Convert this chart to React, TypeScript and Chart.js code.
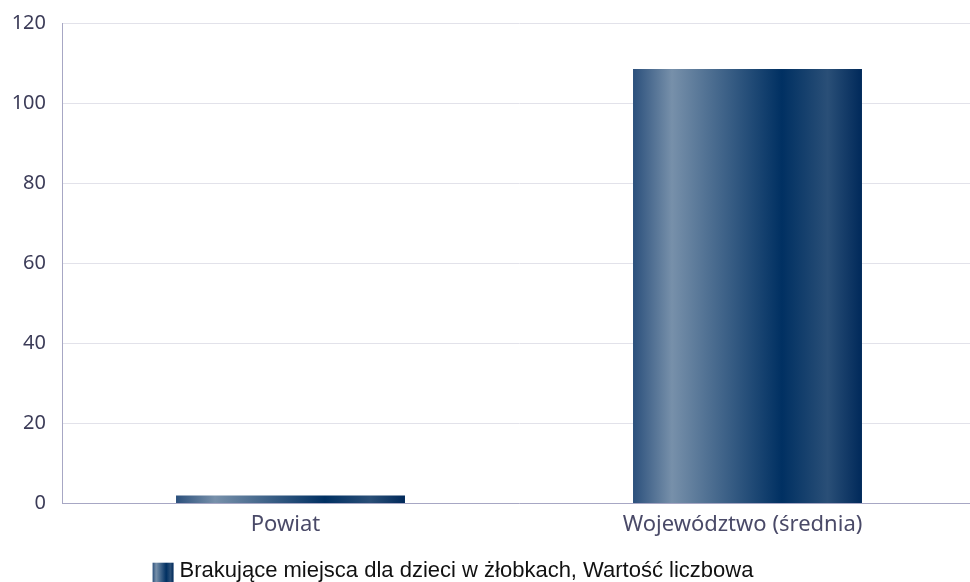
import React, { useEffect, useRef } from "react";
import { Chart, registerables } from "chart.js";

Chart.register(...registerables);

const categories = ["Powiat", "Województwo (średnia)"];
const seriesLabel = "Brakujące miejsca dla dzieci w żłobkach, Wartość liczbowa";
const seriesValues = [2, 108.5];
const gradientStops: [number, string][] = [
  [0, "#2b507c"],
  [0.17, "#7790aa"],
  [0.4, "#3e6288"],
  [0.65, "#003062"],
  [0.85, "#2a4f77"],
  [1, "#00295a"],
];
const CAT_PCT = 0.501;
const LEGEND_SHIFT_X = -37;
const LEGEND_SHIFT_Y = 10;
const SWATCH = 21;
const SWATCH_GAP = 6;

function makeGradient(ctx: CanvasRenderingContext2D, x0: number, x1: number) {
  const g = ctx.createLinearGradient(x0, 0, x1, 0);
  gradientStops.forEach(([o, c]) => g.addColorStop(o, c));
  return g;
}

const helperPlugin = {
  id: "helper",
  afterLayout(chart: any) {
    const lg = chart.legend;
    if (lg) {
      lg.left += LEGEND_SHIFT_X;
      lg.right += LEGEND_SHIFT_X;
      lg.top += LEGEND_SHIFT_Y;
      lg.bottom += LEGEND_SHIFT_Y;
    }
  },
  beforeDraw(chart: any) {
    const lg = chart.legend;
    if (lg && lg.legendItems && lg.legendItems[0]) {
      lg.legendItems[0].fillStyle = "rgba(0,0,0,0)";
      lg.legendItems[0].strokeStyle = "rgba(0,0,0,0)";
      lg.legendItems[0].lineWidth = 0;
    }
  },
  afterDraw(chart: any) {
    const lg = chart.legend;
    if (!lg || !lg.legendHitBoxes || !lg.legendHitBoxes[0]) return;
    const ctx = chart.ctx;
    const hb = lg.legendHitBoxes[0];
    const opts = lg.options.labels;
    const fontSize = opts.font.size;
    const textX = hb.left + opts.boxWidth + fontSize / 2;
    const x0 = textX - SWATCH_GAP - SWATCH;
    const cy = lg.top + opts.padding + (fontSize * 1.2) / 2;
    ctx.save();
    ctx.fillStyle = makeGradient(ctx, x0, x0 + SWATCH);
    ctx.fillRect(x0, cy - SWATCH / 2, SWATCH, SWATCH);
    ctx.restore();
  },
};

function barFill(context: any) {
  const chart = context.chart;
  const xs = chart.scales && chart.scales.x;
  if (!xs || !chart.chartArea) return "#1d436e";
  const n = chart.data.labels.length;
  const cx = xs.getPixelForValue(context.dataIndex);
  const w = (xs.width / n) * CAT_PCT;
  return makeGradient(chart.ctx, cx - w / 2, cx + w / 2);
}

export default function App() {
  const ref = useRef<HTMLCanvasElement | null>(null);
  useEffect(() => {
    if (!ref.current) return;
    const chart = new Chart(ref.current, {
      type: "bar",
      data: {
        labels: categories,
        datasets: [
          {
            label: seriesLabel,
            data: seriesValues,
            backgroundColor: barFill,
            borderWidth: 0,
            barPercentage: 1,
            categoryPercentage: CAT_PCT,
          },
        ],
      },
      options: {
        animation: false,
        responsive: true,
        maintainAspectRatio: false,
        layout: { padding: { top: 0, right: 0, left: 0, bottom: 0 } },
        plugins: {
          tooltip: { enabled: false },
          legend: {
            position: "bottom",
            labels: {
              boxWidth: 20,
              boxHeight: 20,
              padding: 8,
              color: "#111111",
              font: { family: "'Liberation Sans', Arial, sans-serif", size: 22 },
            },
          },
        },
        scales: {
          x: {
            grid: { display: false, drawTicks: false },
            border: { color: "#a7a7c4", width: 1 },
            ticks: {
              color: "#4a4a68",
              padding: 8,
              labelOffset: -5,
              font: { family: "'Noto Sans', sans-serif", size: 22 },
            },
            afterFit: (s: any) => {
              s.height = s.height - 4;
            },
          },
          y: {
            min: 0,
            max: 120,
            ticks: {
              stepSize: 20,
              color: "#3c3c58",
              padding: 16,
              font: { family: "'Noto Sans', sans-serif", size: 20 },
            },
            grid: { color: "#e2e2ea", drawTicks: false },
            border: { color: "#a7a7c4", width: 1 },
            afterFit: (s: any) => {
              s.width = 62;
              s.paddingTop = 23;
            },
          },
        },
      },
      plugins: [helperPlugin],
    });
    return () => chart.destroy();
  }, []);
  return (
    <div style={{ position: "fixed", left: 0, top: 0, width: 970, height: 582, overflow: "hidden" }}>
      <div style={{ position: "relative", width: 976, height: 582 }}>
        <canvas ref={ref} />
      </div>
    </div>
  );
}
